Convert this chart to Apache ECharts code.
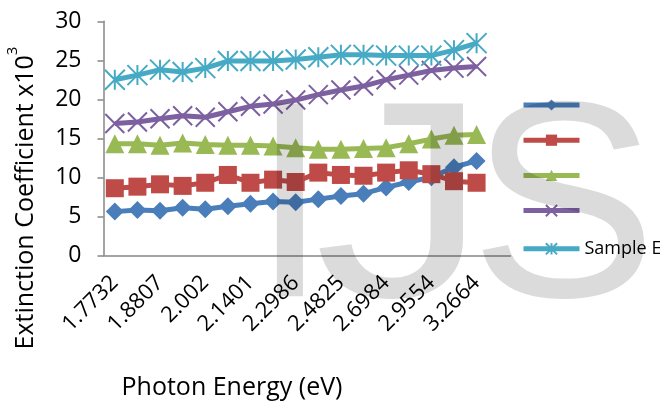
<!DOCTYPE html>
<html>
<head>
<meta charset="utf-8">
<script src="https://cdn.jsdelivr.net/npm/echarts@6/dist/echarts.min.js"></script>
<style>
  html, body { margin: 0; padding: 0; background: #fff; }
  #chart { width: 660px; height: 412px; }
</style>
</head>
<body>
<div id="chart"></div>
<script>
// photon energy (eV); only every other label is shown on the axis
const energies = ['1.7732', '1.8254', '1.8807', '1.9393', '2.002', '2.0687', '2.1401', '2.2163',
  '2.2986', '2.3869', '2.4825', '2.586', '2.6984', '2.8214', '2.9554', '3.1031', '3.2664', '3.4483'];

const sampleA = [5.6, 5.8, 5.7, 6.1, 5.9, 6.3, 6.6, 6.9, 6.8, 7.2, 7.6, 7.9, 8.7, 9.4, 10.0, 11.3, 12.1];
const sampleB = [8.6, 8.8, 9.1, 8.9, 9.3, 10.3, 9.3, 9.7, 9.4, 10.6, 10.3, 10.2, 10.6, 10.9, 10.4, 9.5, 9.3];
const sampleC = [14.3, 14.3, 14.1, 14.4, 14.2, 14.1, 14.1, 14.0, 13.8, 13.6, 13.6, 13.7, 13.8, 14.3, 14.9, 15.4, 15.5];
const sampleD = [16.9, 17.1, 17.5, 17.9, 17.7, 18.4, 19.1, 19.4, 19.9, 20.6, 21.2, 21.7, 22.5, 23.1, 23.7, 24.0, 24.2];
const sampleE = [22.5, 23.1, 23.8, 23.5, 24.0, 24.9, 24.9, 24.9, 25.1, 25.4, 25.7, 25.7, 25.6, 25.6, 25.6, 26.3, 27.2];

const seriesNames = ['Sample A', 'Sample B', 'Sample C', 'Sample D', 'Sample E'];
const yTicks = [0, 5, 10, 15, 20, 25, 30];

const FONT = 'Open Sans';
const axisGray = '#868686';

const crossPath = 'path://M0,0L10,10M10,0L0,10';
const starPath = 'path://M0,0L10,10M10,0L0,10M5,0L5,10';

const styles = [
  { color: '#4A7EBB', symbol: 'diamond', size: 18, border: 0 },
  { color: '#BE4B48', symbol: 'rect', size: 18, border: 0 },
  { color: '#98B954', symbol: 'triangle', size: 19, border: 0 },
  { color: '#7D60A0', symbol: crossPath, size: 19, border: 2 },
  { color: '#46AAC5', symbol: starPath, size: 20, border: 2 }
];
const values = [sampleA, sampleB, sampleC, sampleD, sampleE];

const chart = echarts.init(document.getElementById('chart'));

const markFill = 'rgba(0,0,0,0.14)';

const option = {
  animation: false,
  backgroundColor: '#fff',
  textStyle: { fontFamily: FONT },
  grid: { left: 103.5, right: 149.5, top: 21.3, bottom: 156.7 },
  legend: {
    orient: 'vertical',
    left: 516,
    top: 93,
    itemWidth: 56,
    itemHeight: 14,
    itemGap: 22.6,
    lineStyle: { width: 5 },
    data: seriesNames,
    formatter: name => (name === 'Sample E' ? name : ''),
    textStyle: { fontFamily: FONT, fontSize: 18, color: '#000' }
  },
  xAxis: {
    type: 'category',
    data: energies,
    boundaryGap: true,
    axisLine: { lineStyle: { color: axisGray, width: 1.5 } },
    axisTick: { interval: 0, length: 6, lineStyle: { color: axisGray, width: 1.5 } },
    axisLabel: {
      interval: 1,
      rotate: 45,
      margin: 24,
      fontFamily: FONT,
      fontSize: 22,
      color: '#000'
    },
    splitLine: { show: false }
  },
  yAxis: {
    type: 'value',
    min: yTicks[0],
    max: yTicks[yTicks.length - 1],
    interval: 5,
    axisLine: { show: true, lineStyle: { color: axisGray, width: 1.5 } },
    axisTick: { show: true, length: 6, lineStyle: { color: axisGray, width: 1.5 } },
    axisLabel: { margin: 22, fontFamily: FONT, fontSize: 23, color: '#000' },
    splitLine: { show: false }
  },
  graphic: [
    {
      type: 'text',
      x: 22,
      y: 198,
      rotation: Math.PI / 2,
      style: {
        text: '{a|Extinction Coefficient x10}{s|3}',
        align: 'center',
        verticalAlign: 'middle',
        rich: {
          a: { fontFamily: FONT, fontSize: 25, color: '#000', verticalAlign: 'bottom', lineHeight: 33 },
          s: { fontFamily: FONT, fontSize: 15, color: '#000', verticalAlign: 'top', lineHeight: 33 }
        }
      }
    },
    {
      type: 'text',
      x: 232,
      y: 388,
      style: {
        text: 'Photon Energy (eV)',
        fontFamily: FONT,
        fontSize: 25,
        fill: '#000',
        align: 'center',
        verticalAlign: 'middle'
      }
    },
    // IJS watermark, drawn over the plot
    {
      type: 'text', x: 251, y: 79, z: 100, silent: true,
      style: { text: 'I', fontFamily: 'Liberation Sans', fontSize: 280, fill: markFill, verticalAlign: 'top' }
    },
    {
      type: 'text', x: 314, y: 79, z: 100, scaleX: 1.25, silent: true,
      style: { text: 'J', fontFamily: 'Liberation Sans', fontSize: 280, fill: markFill, verticalAlign: 'top' }
    },
    {
      type: 'text', x: 470, y: 79, z: 100, silent: true,
      style: { text: 'S', fontFamily: 'Liberation Sans', fontSize: 280, fill: markFill, verticalAlign: 'top' }
    }
  ],
  series: seriesNames.map((name, i) => ({
    name: name,
    type: 'line',
    data: values[i],
    symbol: styles[i].symbol,
    symbolSize: styles[i].size,
    showAllSymbol: true,
    lineStyle: { color: styles[i].color, width: 5 },
    itemStyle: {
      color: styles[i].color,
      borderColor: styles[i].color,
      borderWidth: styles[i].border
    }
  }))
};

chart.setOption(option);
</script>
</body>
</html>
